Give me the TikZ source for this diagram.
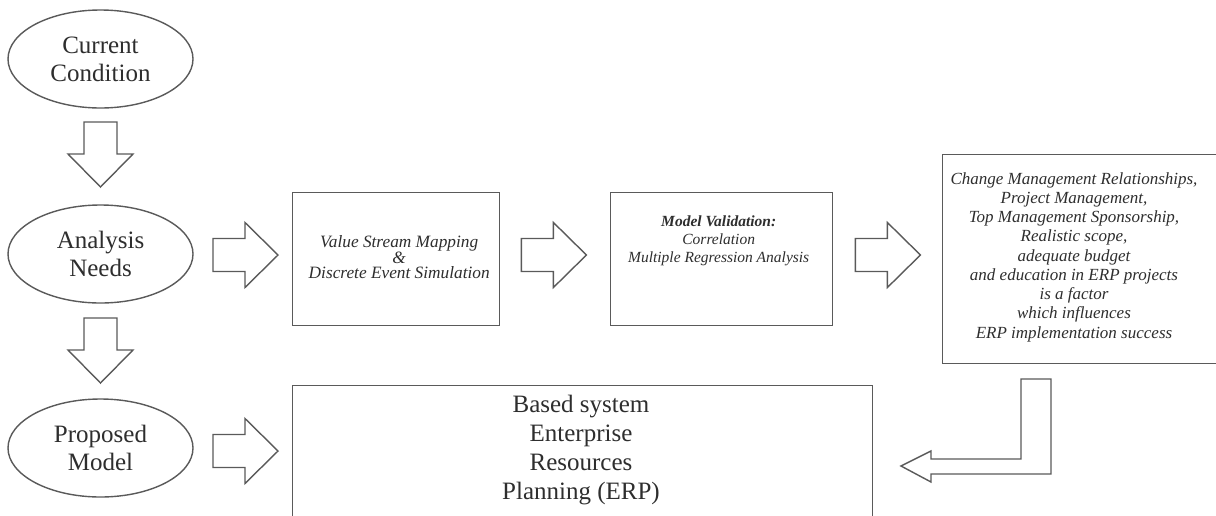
\documentclass[tikz,border=0pt]{standalone}
\usepackage{fontspec}
\setmainfont{Liberation Serif}
\usetikzlibrary{shapes.geometric}
\definecolor{ink}{HTML}{5A5A5A}
\definecolor{txt}{HTML}{2E2E2E}
\tikzset{
  line/.style={draw=ink, line width=1.4pt},
  oval/.style={line, ellipse, minimum width=185pt, minimum height=98pt, inner sep=0pt,
    align=center, text=txt, font=\fontsize{25}{28}\selectfont},
  panel/.style={line, rectangle, inner sep=0pt},
  panelbig/.style={align=center, text=txt, font=\fontsize{25}{28.7}\selectfont},
  blockarrow/.pic={
    \draw[line, fill=white] (0,-16.5) -- (32,-16.5) -- (32,-32.5) -- (65,0)
      -- (32,32.5) -- (32,16.5) -- (0,16.5) -- cycle;
  }
}
\begin{document}
\begin{tikzpicture}[x=1pt, y=-1pt]
\clip (0,0) rectangle (1216,515);
\fill[white] (0,0) rectangle (1216,515);

% left column
\node[oval] (cur) at (100.5,59) {Current\\Condition};
\node[oval] (ana) at (100.5,254) {Analysis\\Needs};
\node[oval] (pro) at (100.5,448) {Proposed\\Model};

% boxes
\node[panel, anchor=north west, minimum width=207pt, minimum height=133pt] (vsm) at (292,192) {};
\node[text=txt, align=center, font=\fontsize{17.3}{15.5}\selectfont\itshape] (vsmt) at ([xshift=3pt, yshift=2pt]vsm.center)
  {Value Stream Mapping\\\&\\Discrete Event Simulation};

\node[panel, anchor=north west, minimum width=222pt, minimum height=133pt] (val) at (610,192) {};
\node[text=txt, align=center, font=\fontsize{15.5}{18}\selectfont\itshape] (valt) at ([xshift=-3pt, yshift=18.5pt]val.center)
  {\textbf{Model Validation:}\\Correlation\\Multiple Regression Analysis};

\node[panel, anchor=north west, minimum width=290pt, minimum height=209pt] (fac) at (942,154) {};
\node[text=txt, align=center, font=\fontsize{17}{19.25}\selectfont\itshape] (fact) at (1074,257)
  {Change Management Relationships,\\Project Management,\\Top Management Sponsorship,\\Realistic scope,\\adequate budget\\and education in ERP projects\\is a factor\\which influences\\ERP implementation success};

\node[panel, anchor=north west, minimum width=580pt, minimum height=160pt] (erp) at (292,385) {};
\node[panelbig] (erpt) at (581,450) {Based system\\Enterprise\\Resources\\Planning (ERP)};

% block arrows
\pic[rotate=-90] at (cur.south |- 0,122) {blockarrow};
\pic[rotate=-90] at (ana.south |- 0,318) {blockarrow};
\pic at (213,255) {blockarrow};
\pic at (213,451) {blockarrow};
\pic at ([xshift=21pt]vsm.east |- 0,255) {blockarrow};
\pic at ([xshift=22pt]val.east |- 0,255) {blockarrow};

% return arrow from the factor box down and back to the ERP box
\draw[line] (1021,379) -- (1051,379) -- (1051,474) -- (931,474) -- (931,482)
  -- (901,466) -- (931,451) -- (931,459) -- (1021,459) -- cycle;
\end{tikzpicture}
\end{document}
